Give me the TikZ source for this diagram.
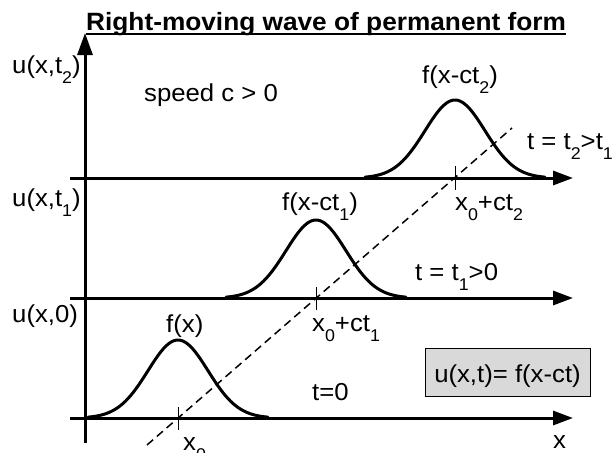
\documentclass[tikz,border=0pt]{standalone}
\usepackage{fontspec}
\setmainfont[FakeStretch=1.05]{Liberation Sans}
\usetikzlibrary{arrows.meta}
\newcommand\mysub[1]{\raisebox{-0.42em}{\fontsize{17}{17}\selectfont #1}}
\tikzset{
  lbl/.style={anchor=base west, inner sep=0pt, font=\fontsize{24.5}{28}\selectfont},
  haxis/.style={line width=3pt, -{Triangle[length=20pt,width=14pt]}},
  vaxis/.style={line width=3pt, -{Triangle[length=22pt,width=15pt]}},
  wave/.style={line width=3pt, line join=round, line cap=round},
  tickmark/.style={line width=0.8pt},
  guide/.style={line width=1.5pt, dash pattern=on 8pt off 5pt},
  formula/.style={draw, line width=0.8pt, fill=gray!30, anchor=base,
    text height=34pt, text depth=14pt, inner ysep=0pt, inner xsep=0pt,
    minimum width=165pt, font=\fontsize{24.5}{28}\selectfont},
}
\begin{document}
\begin{tikzpicture}[x=1pt,y=-1pt]
\useasboundingbox (0,0) rectangle (612,452);

% title
\node[anchor=base west, inner sep=0pt, font=\fontsize{25}{30}\selectfont\bfseries] (title) at (86,31) {Right-moving wave of permanent form};
\draw[line width=2pt] ([yshift=-3.5pt]title.base west) -- ([yshift=-3.5pt]title.base east);

% axes
\coordinate (ybot) at (85,443);
\coordinate (ytop) at (85,33);
\draw[vaxis] (ybot) -- (ytop);
\coordinate (a0s) at (70,418); \coordinate (a0e) at (573,418);
\coordinate (a1s) at (70,298); \coordinate (a1e) at (573,298);
\coordinate (a2s) at (70,178); \coordinate (a2e) at (573,178);
\draw[haxis] (a0s) -- (a0e);
\draw[haxis] (a1s) -- (a1e);
\draw[haxis] (a2s) -- (a2e);

% waves
\draw[wave] plot[domain=-90:90,samples=73] ({178+\x},{418-78*exp(-0.5*(\x/30)^2)});
\draw[wave] plot[domain=-90:90,samples=73] ({316+\x},{298-78*exp(-0.5*(\x/30)^2)});
\draw[wave] plot[domain=-90:90,samples=73] ({455+\x},{178-78*exp(-0.5*(\x/30)^2)});

% ticks
\coordinate (k0a) at (178,407); \coordinate (k0b) at (178,430);
\coordinate (k1a) at (316,287); \coordinate (k1b) at (316,310);
\coordinate (k2a) at (455,166); \coordinate (k2b) at (455,190);
\draw[tickmark] (k0a) -- (k0b);
\draw[tickmark] (k1a) -- (k1b);
\draw[tickmark] (k2a) -- (k2b);

% characteristic line
\coordinate (ds) at (147,445);
\coordinate (de) at (512,128);
\draw[guide] (ds) -- (de);

% labels
\node[lbl] (lu2) at (12,73) {u(x,t\mysub{2})};
\node[lbl] (lu1) at (12,206) {u(x,t\mysub{1})};
\node[lbl] (lu0) at (12,322) {u(x,0)};
\node[lbl] (speed) at (144,101) {speed c > 0};
\node[lbl] (f2) at (422,83) {f(x-ct\mysub{2})};
\node[lbl] (tt2) at (527,149) {t = t\mysub{2}>t\mysub{1}};
\node[lbl] (xc2) at (455,210) {x\mysub{0}+ct\mysub{2}};
\node[lbl] (f1) at (282,210) {f(x-ct\mysub{1})};
\node[lbl] (tt1) at (415,280) {t = t\mysub{1}>0};
\node[lbl] (f0) at (166,332) {f(x)};
\node[lbl] (xc1) at (312,331) {x\mysub{0}+ct\mysub{1}};
\node[lbl] (x0) at (183,450) {x\mysub{0}};
\node[lbl] (t0) at (312,400) {t=0};
\node[lbl] (xl) at (553,448) {x};

% formula box
\node[formula] (box) at (507.5,382) {u(x,t)= f(x-ct)};
\end{tikzpicture}
\end{document}
